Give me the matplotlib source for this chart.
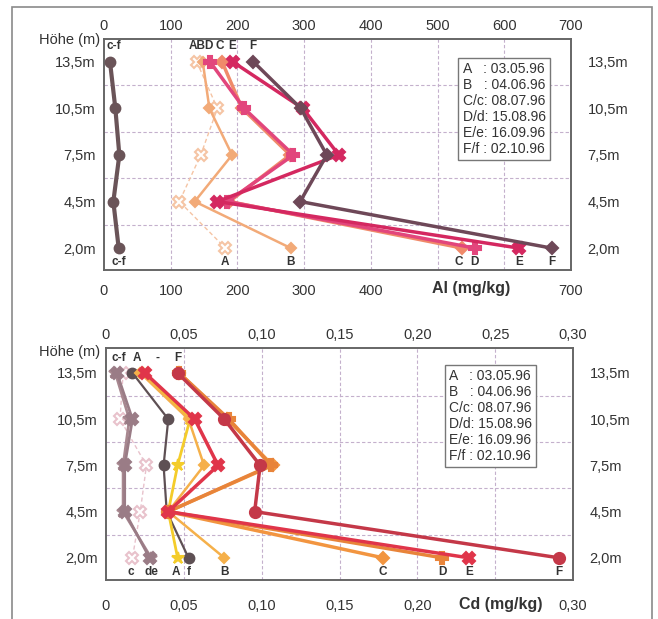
import numpy as np
import matplotlib
matplotlib.use("Agg")
import matplotlib.pyplot as plt
from matplotlib.patches import Rectangle

plt.rcParams['font.family'] = ['Liberation Sans', 'DejaVu Sans']

# ---------------- data ----------------
heights = ["13,5m", "10,5m", "7,5m", "4,5m", "2,0m"]

al_ticks = [0, 100, 200, 300, 400, 500, 600, 700]
al_ticklabels = ["0", "100", "200", "300", "400", "500", "600", "700"]
al_A = [139, 170, 145, 113, 182]
al_B = [148, 158, 192, 136, 280]
al_C = [177, 207, 279, 188, 537]
al_D = [159, 210, 284, 185, 556]
al_E = [193, 298, 352, 170, 622]
al_F = [224, 295, 334, 294, 671]
al_cf = [9, 17, 23, 14, 22]

cd_ticks = [0, 0.05, 0.10, 0.15, 0.20, 0.25, 0.30]
cd_ticklabels = ["0", "0,05", "0,10", "0,15", "0,20", "0,25", "0,30"]
cd_A = [0.024, 0.054, 0.046, 0.040, 0.046]
cd_B = [0.022, 0.053, 0.063, 0.040, 0.076]
cd_C = [0.047, 0.078, 0.107, 0.040, 0.178]
cd_D = [0.047, 0.079, 0.106, 0.040, 0.216]
cd_E = [0.025, 0.057, 0.072, 0.040, 0.233]
cd_F = [0.046, 0.076, 0.099, 0.0955, 0.291]
cd_c = [0.011, 0.009, 0.026, 0.022, 0.017]
cd_d = [0.006, 0.015, 0.011, 0.011, 0.029]
cd_e = [0.007, 0.017, 0.012, 0.012, 0.028]
cd_f = [0.017, 0.040, 0.037, 0.039, 0.053]

legend_lines = ["A   : 03.05.96", "B   : 04.06.96", "C/c: 08.07.96",
                "D/d: 15.08.96", "E/e: 16.09.96", "F/f : 02.10.96"]

ypos = np.arange(len(heights))[::-1]

W, H = 658, 619
fig = plt.figure(figsize=(W / 100, H / 100), dpi=100)

TXT = '#333333'
GRID = '#c4b0cc'


def fig_rect(l, t, r, b):
    return [l / W, 1 - b / H, (r - l) / W, (b - t) / H]


def setup(ax, xlim, ylim, ticks, ticklabels, hide, top_pad, bot_pad):
    ax.set_xlim(*xlim)
    ax.set_ylim(*ylim)
    ax.set_xticks(ticks)
    ax.set_xticklabels([("" if i in hide else t) for i, t in enumerate(ticklabels)])
    ax.set_yticks(ypos)
    ax.set_yticklabels(heights)
    ax.tick_params(axis='both', length=0, labelsize=10.5, colors=TXT)
    ax.tick_params(axis='x', pad=bot_pad)
    ax.tick_params(axis='y', pad=6)
    for x in ticks[1:-1]:
        ax.axvline(x, color=GRID, lw=0.8, ls=(0, (3, 2)), zorder=0)
    for y in ypos[:-1] - 0.5:
        ax.axhline(y, color=GRID, lw=0.8, ls=(0, (3, 2)), zorder=0)
    for s in ax.spines.values():
        s.set_color('#666666')
        s.set_linewidth(1.4)
    sec = ax.secondary_xaxis('top')
    sec.set_xticks(ticks)
    sec.set_xticklabels(ticklabels)
    sec.tick_params(length=0, labelsize=10.5, colors=TXT, pad=top_pad)
    sec.spines['top'].set_visible(False)
    ax2 = ax.twinx()
    ax2.set_ylim(*ylim)
    ax2.set_yticks(ypos)
    ax2.set_yticklabels(heights)
    ax2.tick_params(length=0, labelsize=10.5, colors=TXT, pad=12)
    for s in ax2.spines.values():
        s.set_visible(False)


def line(ax, vals, color, marker, lw=2.5, ms=7, ls='-', mfc=None, z=3):
    ax.plot(vals, ypos, color=color, lw=lw, ls=ls, marker=marker, ms=ms,
            mfc=mfc if mfc else color, mec=color, mew=1.5, zorder=z)


def label(ax, x, y, s):
    ax.text(x, y, s, ha='center', va='center', fontsize=8.5, fontweight='bold',
            color=TXT, zorder=6)


def legend_box(ax, x, y):
    ax.text(x, y, "\n".join(legend_lines), transform=ax.transAxes,
            ha='left', va='top', fontsize=10, color=TXT, linespacing=1.18,
            bbox=dict(boxstyle='square,pad=0.3', fc='white', ec='#777777', lw=1.0),
            zorder=7)


# ---------------- top chart (Al) ----------------
ax1 = fig.add_axes(fig_rect(104, 39, 571, 270))
setup(ax1, (0, 700), (-0.47, 4.49), al_ticks, al_ticklabels, {5, 6}, 4, 10)

line(ax1, al_A, '#f5c4a4', 'X', lw=1.0, ls=(0, (3, 2)), mfc='white', ms=8)
line(ax1, al_B, '#f2aa78', 'D', lw=1.8, ms=5)
line(ax1, al_C, '#f08a6a', 'D', lw=2.5, ms=6)
line(ax1, al_D, '#e2467c', 'P', lw=2.5, ms=8)
line(ax1, al_E, '#d42860', 'X', lw=2.5, ms=8)
line(ax1, al_F, '#6e4858', 'D', lw=2.5, ms=6)
line(ax1, al_cf, '#6a5458', 'o', lw=3.0, ms=7)

label(ax1, 15, 4.33, "c-f")
label(ax1, 146, 4.33, "ABD")
label(ax1, 174, 4.33, "C")
label(ax1, 192, 4.33, "E")
label(ax1, 223, 4.33, "F")
label(ax1, al_cf[-1], -0.3, "c-f")
label(ax1, al_A[-1], -0.3, "A")
label(ax1, al_B[-1], -0.3, "B")
label(ax1, al_C[-1] - 5, -0.3, "C")
label(ax1, al_D[-1], -0.3, "D")
label(ax1, al_E[-1], -0.3, "E")
label(ax1, al_F[-1], -0.3, "F")

legend_box(ax1, 0.768, 0.9)

# ---------------- bottom chart (Cd) ----------------
ax3 = fig.add_axes(fig_rect(106, 348, 573, 580))
setup(ax3, (0, 0.30), (-0.48, 4.54), cd_ticks, cd_ticklabels, {5}, 4, 14)

line(ax3, cd_c, '#e8c2cc', 'X', lw=1.0, ls=(0, (3, 2)), mfc='white', ms=8)
line(ax3, cd_d, '#a88890', '*', lw=2.0, ms=9)
line(ax3, cd_e, '#9a7c86', 'X', lw=2.0, ms=8)
line(ax3, cd_f, '#5e5054', 'o', lw=1.6, ms=7)
line(ax3, cd_A, '#f4cc2a', '*', lw=2.0, ms=9)
line(ax3, cd_B, '#f5b04a', 'D', lw=1.8, ms=5)
line(ax3, cd_C, '#f29540', 'D', lw=2.5, ms=6)
line(ax3, cd_D, '#e8843a', 'P', lw=2.5, ms=8)
line(ax3, cd_E, '#e0354a', 'X', lw=2.5, ms=8)
line(ax3, cd_F, '#c43848', 'o', lw=2.5, ms=8)

label(ax3, 0.008, 4.33, "c-f")
label(ax3, 0.020, 4.33, "A")
label(ax3, 0.033, 4.33, "-")
label(ax3, 0.046, 4.33, "F")
label(ax3, cd_c[-1] - 0.001, -0.3, "c")
label(ax3, cd_d[-1], -0.3, "de")
label(ax3, cd_A[-1] - 0.001, -0.3, "A")
label(ax3, cd_f[-1], -0.3, "f")
label(ax3, cd_B[-1], -0.3, "B")
label(ax3, cd_C[-1], -0.3, "C")
label(ax3, cd_D[-1], -0.3, "D")
label(ax3, cd_E[-1], -0.3, "E")
label(ax3, cd_F[-1], -0.3, "F")

legend_box(ax3, 0.735, 0.91)

# axis titles, in line with the bottom tick labels
fig.text(471 / W, 1 - 288 / H, "Al (mg/kg)", ha='center', va='center',
         fontsize=11.5, fontweight='bold', color=TXT)
fig.text(501 / W, 1 - 604 / H, "Cd (mg/kg)", ha='center', va='center',
         fontsize=11.5, fontweight='bold', color=TXT)

# Höhe labels
fig.text(100 / W, 1 - 40 / H, "Höhe (m)", ha='right', va='center', fontsize=10.5, color=TXT)
fig.text(100 / W, 1 - 352 / H, "Höhe (m)", ha='right', va='center', fontsize=10.5, color=TXT)

# outer frame
fig.patches.append(Rectangle((12 / W, -0.01), (652 - 12) / W, 1.01 - 7 / H,
                             transform=fig.transFigure, fill=False,
                             ec='#8a8a8a', lw=1.2))

fig.savefig("out.png", dpi=100)
